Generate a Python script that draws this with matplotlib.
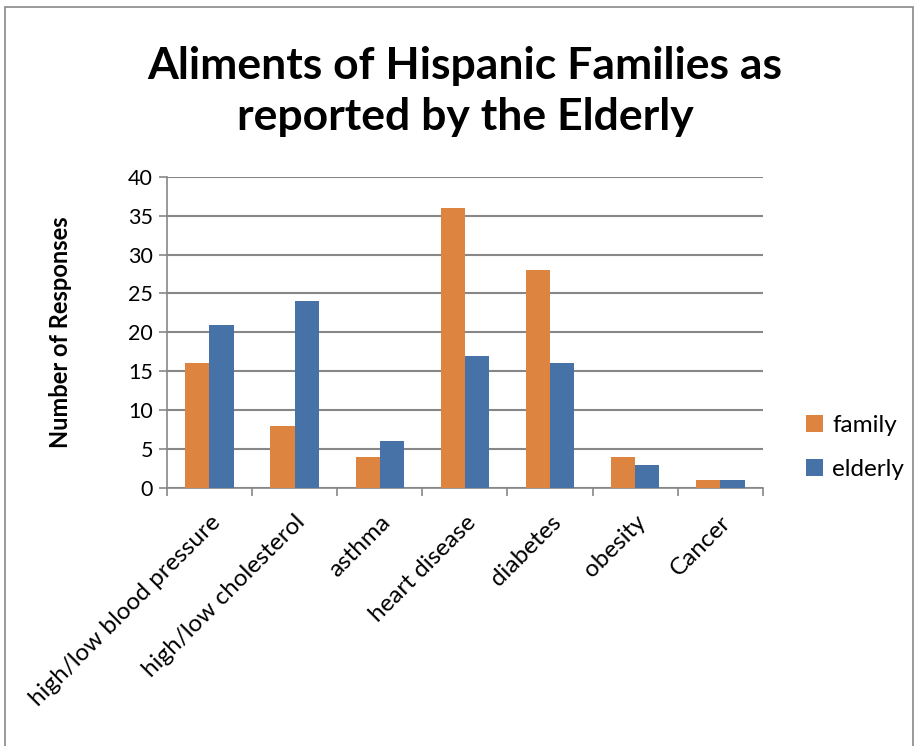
import matplotlib.pyplot as plt
import numpy as np
from matplotlib.patches import Rectangle

categories = ["high/low blood pressure", "high/low cholesterol", "asthma",
              "heart disease", "diabetes", "obesity", "Cancer"]
family = [16, 8, 4, 36, 28, 4, 1]
elderly = [21, 24, 6, 17, 16, 3, 1]
yticks = [0, 5, 10, 15, 20, 25, 30, 35, 40]

plt.rcParams['font.family'] = ['Lato', 'DejaVu Sans']

fig = plt.figure(figsize=(9.17, 7.46), dpi=100)
fig.patches.append(Rectangle((0.005, -0.01), 0.991, 1.0, transform=fig.transFigure,
                             fill=False, edgecolor='#878787', linewidth=1.2))
ax = fig.add_axes([0.182, 0.346, 0.650, 0.417])

x = np.arange(len(categories))
w = 0.285
ax.bar(x - w / 2, family, w, color='#DD8540', label='family', zorder=3)
ax.bar(x + w / 2, elderly, w, color='#4672A8', label='elderly', zorder=3)

ax.set_xlim(-0.5, len(categories) - 0.5)
ax.set_ylim(0, 40)
ax.set_yticks(yticks)
ax.yaxis.grid(True, color='#878787', linewidth=1.5, zorder=0)
ax.set_axisbelow(True)

ax.set_xticks(np.arange(len(categories) + 1) - 0.5)
ax.set_xticklabels([])
ax.set_xticks(x, minor=True)
ax.set_xticklabels(categories, minor=True, rotation=45, ha='right', va='top',
                   rotation_mode='anchor', fontsize=17.5)
ax.tick_params(axis='x', which='minor', length=0, pad=17)
ax.tick_params(axis='x', which='major', length=6, width=1.2, color='#878787', direction='out')
ax.tick_params(axis='y', length=6, width=1.2, color='#878787', direction='out', labelsize=15.5, pad=4)

for s in ['top', 'right']:
    ax.spines[s].set_visible(False)
ax.spines['left'].set_color('#878787')
ax.spines['bottom'].set_color('#878787')
ax.spines['left'].set_linewidth(1.2)
ax.spines['bottom'].set_linewidth(1.2)

ax.set_ylabel("Number of Responses", fontsize=17, fontweight='bold')
ax.yaxis.set_label_coords(-0.16, 0.5)

fig.text(0.507, 0.877, "Aliments of Hispanic Families as\nreported by the Elderly",
         ha='center', va='center', fontsize=32, fontweight='bold', linespacing=1.32)

ax.legend(loc='center left', bbox_to_anchor=(1.035, 0.13), frameon=False, fontsize=17.5,
          handlelength=0.7, handleheight=0.7, labelspacing=0.95, handletextpad=0.4)

fig.savefig("out.png", dpi=100)
